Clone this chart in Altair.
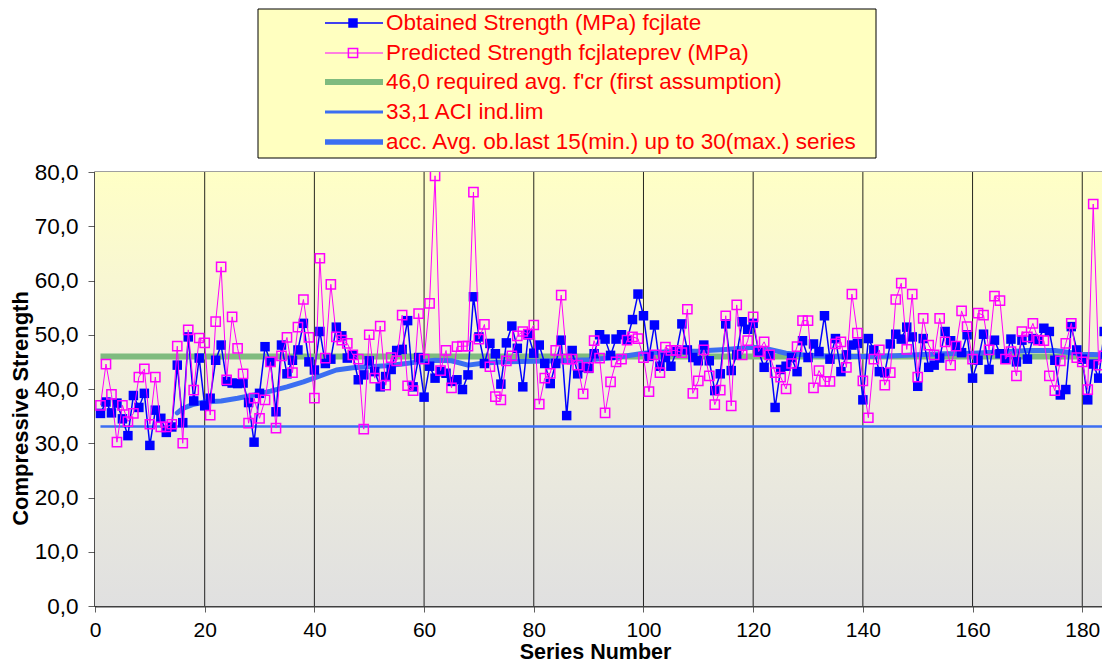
import altair as alt
import pandas as pd

FONT = "Liberation Sans"

# ---------------- data ----------------
series_x = list(range(1, 186))

obtained = [
    35.5, 37.6, 35.6, 37.4, 34.5, 31.4, 38.8, 36.6, 39.2, 29.6,
    36.1, 34.6, 32.0, 33.0, 44.4, 33.8, 49.6, 37.8, 45.7, 36.9,
    38.3, 45.3, 48.1, 41.4, 41.1, 41.0, 41.1, 37.5, 30.2, 39.2,
    47.8, 45.0, 35.8, 48.1, 42.8, 45.3, 47.2, 52.1, 45.0, 43.5,
    50.6, 44.7, 45.5, 51.4, 49.8, 45.7, 46.3, 41.7, 42.6, 45.2,
    43.2, 40.4, 42.3, 43.6, 47.1, 47.3, 52.6, 40.4, 45.8, 38.5,
    44.2, 42.0, 43.2, 42.9, 41.4, 41.7, 39.9, 42.6, 57.0, 49.6,
    44.7, 48.4, 46.5, 40.9, 48.5, 51.6, 47.5, 40.4, 50.0, 46.6,
    48.1, 44.7, 41.0, 44.7, 49.0, 35.1, 47.1, 42.8, 44.0, 43.8,
    46.5, 50.0, 49.2, 46.2, 49.2, 50.0, 49.0, 52.8, 57.5, 53.5,
    46.0, 51.8, 44.2, 45.8, 44.2, 46.9, 52.0, 47.2, 45.8, 45.2,
    48.1, 45.2, 39.7, 42.8, 52.0, 43.4, 46.3, 52.4, 51.0, 52.1,
    46.9, 44.0, 46.3, 36.6, 43.6, 44.2, 45.8, 43.2, 48.9, 45.8,
    48.3, 46.9, 53.5, 45.5, 49.3, 43.2, 46.3, 48.1, 48.4, 38.0,
    49.3, 47.2, 43.2, 43.0, 48.3, 50.1, 49.2, 51.4, 49.6, 40.5,
    49.3, 44.0, 44.4, 45.7, 50.6, 48.9, 47.9, 46.7, 50.0, 42.0,
    45.3, 50.1, 43.6, 49.0, 46.5, 45.5, 49.2, 45.0, 49.0, 45.5,
    49.3, 49.0, 51.2, 50.6, 45.3, 38.9, 39.9, 51.5, 47.2, 45.5,
    38.0, 44.6, 42.0, 50.6, 45.3,
]

predicted = [
    37.0, 44.6, 39.0, 30.2, 37.0, 34.0, 35.5, 42.2, 43.7, 33.5,
    42.2, 33.0, 33.0, 33.5, 47.9, 30.0, 50.9, 39.8, 49.4, 48.5,
    35.2, 52.4, 62.5, 41.7, 53.3, 47.5, 42.8, 33.7, 38.3, 34.6,
    38.0, 45.0, 32.8, 46.1, 49.5, 43.0, 51.4, 56.5, 49.5, 38.3,
    64.1, 45.7, 59.3, 49.6, 49.0, 48.4, 46.3, 45.5, 32.6, 50.0,
    42.0, 51.6, 40.7, 45.8, 45.2, 53.6, 40.6, 39.7, 53.9, 45.5,
    55.8, 79.3, 43.4, 47.1, 40.2, 47.8, 47.9, 47.9, 76.3, 49.2,
    51.9, 44.1, 38.6, 38.0, 45.2, 46.1, 49.8, 50.6, 50.1, 51.8,
    37.2, 42.0, 42.9, 47.1, 57.3, 45.5, 45.5, 44.4, 39.1, 44.0,
    48.9, 45.7, 35.6, 41.3, 45.0, 45.5, 49.0, 49.6, 49.3, 45.8,
    39.5, 46.3, 43.0, 47.7, 47.1, 47.1, 46.7, 54.7, 39.2, 41.5,
    47.2, 42.4, 37.1, 39.8, 53.5, 36.9, 55.5, 46.3, 48.9, 53.3,
    46.9, 48.7, 46.3, 43.0, 42.2, 40.0, 44.7, 47.8, 52.6, 52.6,
    40.2, 43.4, 41.4, 41.4, 48.3, 48.7, 44.0, 57.5, 50.3, 41.5,
    34.7, 45.5, 47.2, 40.7, 43.0, 56.5, 59.5, 47.3, 57.5, 42.2,
    53.0, 48.1, 46.3, 53.0, 48.7, 44.4, 47.9, 54.4, 51.5, 45.5,
    54.0, 53.6, 47.2, 57.1, 56.3, 45.5, 46.9, 42.4, 50.6, 49.6,
    52.1, 49.0, 48.9, 42.4, 39.7, 45.2, 48.4, 52.1, 45.8, 45.0,
    39.9, 74.1, 44.4, 46.1, 47.5,
]

avg_x = [15, 16, 18, 20, 23, 26, 29, 32, 35, 38, 41, 44, 47, 50, 53, 56, 59,
         62, 65, 68, 71, 75, 80, 85, 90, 95, 100, 105, 110, 115, 120, 123,
         126, 130, 135, 140, 145, 150, 155, 160, 165, 170, 175, 180, 185]
avg_y = [35.6, 36.4, 37.2, 37.6, 37.8, 38.3, 38.9, 39.6, 40.4, 41.3, 42.4,
         43.5, 43.9, 44.1, 44.3, 44.6, 45.0, 45.3, 45.2, 44.4, 44.8, 45.0,
         45.1, 45.2, 45.4, 45.8, 46.6, 46.9, 47.0, 47.3, 47.7, 47.3, 46.6,
         46.2, 46.0, 46.0, 46.1, 46.3, 46.5, 46.6, 46.8, 47.1, 47.1, 46.4,
         46.3]

req_avg = 46.0
aci_lim = 33.1
ref_start = 1
ref_end = 185

x_ticks = [0, 20, 40, 60, 80, 100, 120, 140, 160, 180]
y_ticks = [0, 10, 20, 30, 40, 50, 60, 70, 80]

legend_labels = [
    "Obtained Strength (MPa) fcjlate",
    "Predicted Strength fcjlateprev (MPa)",
    "46,0 required avg. f'cr (first assumption)",
    "33,1 ACI ind.lim",
    "acc. Avg. ob.last 15(min.) up to 30(max.) series",
]

# ---------------- styles ----------------
BLUE = "#0000ff"
MAGENTA = "#ff00ff"
GREEN = "#7fbb7f"
LBLUE = "#3b6ef2"
W, H = 1007, 434
XMAX = 183.6

df_obt = pd.DataFrame({"x": series_x, "v": obtained})
df_pred = pd.DataFrame({"x": series_x, "v": predicted})
df_avg = pd.DataFrame({"x": avg_x, "v": avg_y})
df_req = pd.DataFrame({"x": [ref_start], "xe": [ref_end], "v": [req_avg]})
df_aci = pd.DataFrame({"x": [ref_start], "xe": [ref_end], "v": [aci_lim]})
df_grid = pd.DataFrame({"x": x_ticks[1:]})
one = pd.DataFrame({"d": [0]})

xscale = alt.Scale(domain=[0, XMAX], nice=False, zero=False)
yscale = alt.Scale(domain=[0, 80], nice=False)

xaxis = alt.Axis(
    values=x_ticks, grid=False,
    domainColor="#404040", domainWidth=2, tickColor="#606060", tickSize=6,
    labelFont=FONT, labelFontSize=21, labelColor="#000000", labelPadding=18,
    labelBaseline="middle", labelFlush=False,
    title="Series Number", titleFont=FONT, titleFontSize=21.5, titleFontWeight="bold",
    titleColor="#000000", titleX=500, titleY=46, titleBaseline="middle",
)
yaxis = alt.Axis(
    values=y_ticks, grid=False, labelExpr="replace(format(datum.value, '.1f'), '.', ',')",
    domainColor="#000000", domainWidth=2, tickColor="#606060", tickSize=7,
    labelFont=FONT, labelFontSize=22.5, labelColor="#000000", labelPadding=10,
    title="Compressive Strength", titleFont=FONT, titleFontSize=22, titleFontWeight="bold",
    titleColor="#000000", titleX=-75, titleY=236, titleAngle=270, titleAlign="center",
    titleBaseline="middle",
)

X = alt.X("x:Q", scale=xscale, axis=xaxis)
Y = alt.Y("v:Q", scale=yscale, axis=yaxis)

bg = alt.Chart(one).mark_rect(
    color=alt.LinearGradient(
        gradient="linear", x1=0, x2=0, y1=0, y2=1,
        stops=[alt.GradientStop(color="#ffffc6", offset=0),
               alt.GradientStop(color="#f2f0dc", offset=0.45),
               alt.GradientStop(color="#e0e0e0", offset=1)],
    )
).encode(x=alt.value(0), x2=alt.value(W), y=alt.value(0), y2=alt.value(H))

grid = alt.Chart(df_grid).mark_rule(color="#000000", strokeWidth=1, opacity=0.85).encode(x=X)

req_line = alt.Chart(df_req).mark_rule(color=GREEN, strokeWidth=6, clip=True).encode(
    x=X, x2="xe:Q", y=Y)
aci_line = alt.Chart(df_aci).mark_rule(color=LBLUE, strokeWidth=2.5, clip=True).encode(
    x=X, x2="xe:Q", y=Y)
avg_line = alt.Chart(df_avg).mark_line(color=LBLUE, strokeWidth=5, clip=True,
                                       strokeCap="round", strokeJoin="round").encode(x=X, y=Y)

obt_line = alt.Chart(df_obt).mark_line(color=BLUE, strokeWidth=1.5, clip=True).encode(x=X, y=Y)
obt_pts = alt.Chart(df_obt).mark_point(shape="square", filled=True, color=BLUE, size=90,
                                       opacity=1, clip=True).encode(x=X, y=Y)
pred_line = alt.Chart(df_pred).mark_line(color=MAGENTA, strokeWidth=1, clip=True).encode(x=X, y=Y)
pred_pts = alt.Chart(df_pred).mark_point(shape="square", filled=False, color=MAGENTA, size=85,
                                         strokeWidth=1.5, opacity=1, clip=True).encode(x=X, y=Y)

# ---------------- legend box (drawn above the plot) ----------------
legend_layers = [
    alt.Chart(one).mark_rect(fill="#ffffc0", stroke="#000000", strokeWidth=1).encode(
        x=alt.value(163), x2=alt.value(781), y=alt.value(-163), y2=alt.value(-14))
]
rows = [-149, -119, -90, -60, -30]
sym_styles = [
    dict(color=BLUE, strokeWidth=1.5),
    dict(color=MAGENTA, strokeWidth=1),
    dict(color=GREEN, strokeWidth=6),
    dict(color=LBLUE, strokeWidth=3),
    dict(color=LBLUE, strokeWidth=5.5),
]
for py, st in zip(rows, sym_styles):
    legend_layers.append(
        alt.Chart(one).mark_rule(**st).encode(x=alt.value(230), x2=alt.value(288), y=alt.value(py)))
legend_layers.append(
    alt.Chart(one).mark_point(shape="square", filled=True, color=BLUE, size=90, opacity=1).encode(
        x=alt.value(258), y=alt.value(rows[0])))
legend_layers.append(
    alt.Chart(one).mark_point(shape="square", filled=False, color=MAGENTA, size=85, strokeWidth=1.5,
                              opacity=1).encode(x=alt.value(258), y=alt.value(rows[1])))
for py, lab in zip(rows, legend_labels):
    legend_layers.append(
        alt.Chart(one).mark_text(text=lab, align="left", baseline="middle", font=FONT,
                                 fontSize=22.5, color="#ff0000").encode(
            x=alt.value(291), y=alt.value(py)))

chart = alt.layer(
    bg, grid, req_line, aci_line, avg_line, obt_line, obt_pts, pred_line, pred_pts, *legend_layers
).properties(
    width=W, height=H,
    padding={"left": 87, "top": 164, "right": 0, "bottom": 56},
    autosize=alt.AutoSizeParams(type="none"),
    background="#ffffff",
).configure_view(
    stroke="#808080", strokeWidth=1.5,
)

chart.save("out.html", embed_options={"renderer": "svg", "actions": False})
